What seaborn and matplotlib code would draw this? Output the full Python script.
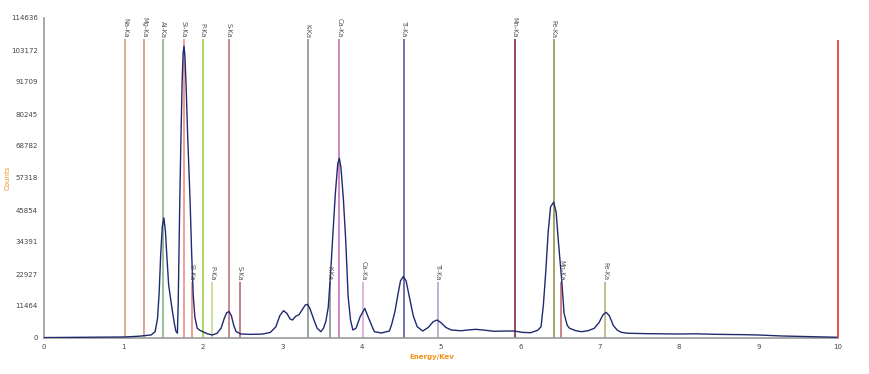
import matplotlib
matplotlib.use("Agg")
import matplotlib.pyplot as plt
import seaborn as sns
import pandas as pd

# ---- spectrum data ----
energy = [0.0, 0.5, 1.0, 1.09, 1.2, 1.26, 1.35, 1.40,
          1.43, 1.45, 1.47, 1.49, 1.51, 1.53, 1.55, 1.57, 1.59, 1.615, 1.64, 1.66, 1.68,
          1.69, 1.70, 1.71, 1.725, 1.74, 1.752, 1.763, 1.775, 1.79, 1.81, 1.84, 1.86, 1.88, 1.90, 1.93, 1.96,
          2.0, 2.06, 2.12, 2.18, 2.23, 2.27, 2.30, 2.33, 2.36, 2.39, 2.42, 2.48,
          2.6, 2.75, 2.85, 2.92, 2.97, 3.016, 3.06, 3.10, 3.13, 3.17, 3.21, 3.26, 3.29, 3.32, 3.35, 3.40, 3.44, 3.487,
          3.52, 3.55, 3.58, 3.61, 3.64, 3.67, 3.70, 3.72, 3.74, 3.77, 3.80, 3.83, 3.86, 3.89,
          3.93, 3.98, 4.04, 4.09, 4.16, 4.25,
          4.35, 4.38, 4.42, 4.46, 4.49, 4.525, 4.56, 4.60, 4.65, 4.70, 4.77,
          4.84, 4.90, 4.95, 5.00, 5.06, 5.13,
          5.25, 5.35, 5.44, 5.55, 5.67, 5.80, 5.92, 6.03, 6.13, 6.22, 6.26,
          6.29, 6.32, 6.35, 6.38, 6.42, 6.45, 6.48, 6.52, 6.55, 6.59, 6.62, 6.70, 6.77,
          6.85, 6.93, 6.99, 7.04, 7.08, 7.12, 7.17, 7.22, 7.27,
          7.35, 7.6, 8.0, 8.2, 8.5, 8.8, 9.0, 9.3, 9.6, 10.0]
counts = [150, 250, 360, 470, 650, 820, 1100, 2300,
          7000, 16000, 30000, 40000, 43000, 38000, 28000, 19000, 15000, 10000, 5500, 2500, 1700,
          12000, 30000, 49000, 72000, 92000, 102000, 104500, 101000, 90000, 72000, 49000, 30000, 15000, 7500, 3500, 2800,
          2260, 1500, 1075, 1700, 3500, 7000, 9000, 9500, 8000, 4500, 2260, 1430,
          1300, 1400, 2000, 4000, 8000, 9780, 8800, 6800, 6450, 7800, 8300, 10500, 11800, 12070, 10500, 6450, 3500, 2260,
          3500, 6000, 11000, 23300, 38000, 52000, 62500, 64400, 61000, 50000, 35000, 15000, 6500, 2870,
          3500, 7500, 10600, 7000, 2260, 1800,
          2500, 5000, 9500, 16000, 20500, 22000, 20500, 15000, 8000, 4050, 2500,
          3800, 5800, 6450, 5500, 3800, 2870,
          2600, 2900, 3100, 2800, 2400, 2500, 2500, 2000, 1900, 2800, 4050,
          12000, 24000, 38000, 47000, 48700, 45000, 34000, 20800, 8850, 4500, 3470, 2600, 2260,
          2600, 3470, 5500, 8300, 9200, 8000, 4500, 2800, 2040,
          1700, 1550, 1430, 1500, 1300, 1200, 1075, 716, 500, 250]

# ---- element marker lines ----
ka_labels = ["Na-Ka", "Mg-Ka", "Al-Ka", "Si-Ka", "P-Ka", "S-Ka", "K-Ka", "Ca-Ka", "Ti-Ka", "Mn-Ka", "Fe-Ka"]
ka_energy = [1.02, 1.26, 1.50, 1.76, 2.00, 2.33, 3.32, 3.72, 4.53, 5.93, 6.42]
ka_height = [107000] * 11
ka_colors = ["#d9956a", "#c8907a", "#7aaa82", "#e8857a", "#99cc33", "#b86b70",
             "#7a8a88", "#c466b8", "#4a4a9a", "#7a1a2a", "#8a8a40"]

kb_labels = ["Si-Ka", "P-Ka", "S-Ka", "K-Ka", "Ca-Ka", "Ti-Ka", "Mn-Ka", "Fe-Ka"]
kb_energy = [1.86, 2.12, 2.47, 3.60, 4.02, 4.96, 6.51, 7.07]
kb_height = [20000] * 8
kb_colors = ["#e8857a", "#b8d880", "#b06060", "#7a8a88", "#d8a0d0", "#a0a0c8", "#c06060", "#b0b070"]

limit_energy = 10.0
limit_height = 106800

y_ticks = [0, 11464, 22927, 34391, 45854, 57318, 68782, 80245, 91709, 103172, 114636]
x_ticks = [0, 1, 2, 3, 4, 5, 6, 7, 8, 9, 10]

sns.set_style("white")
fig = plt.figure(figsize=(8.69, 3.74), dpi=100)
ax = fig.add_axes([44 / 869, 36 / 374, (838 - 44) / 869, (338 - 18) / 374])

df = pd.DataFrame({"Energy": energy, "Counts": counts})

for e, h, c in zip(ka_energy, ka_height, ka_colors):
    ax.vlines(e, 0, h, color=c, lw=1.1, zorder=2)
for e, h, c in zip(kb_energy, kb_height, kb_colors):
    ax.vlines(e, 0, h, color=c, lw=1.1, zorder=2)
ax.vlines(limit_energy, 0, limit_height, color="#e84040", lw=1.3, zorder=4, clip_on=False)

sns.lineplot(data=df, x="Energy", y="Counts", ax=ax, color="#1f2a6e", lw=1.0,
             estimator=None, sort=False, zorder=3)
for ln in ax.get_lines():
    ln.set_solid_joinstyle("round")

for lab, e, h in zip(ka_labels, ka_energy, ka_height):
    ax.text(e, h + 600, lab, rotation=270, ha="center", va="bottom",
            fontsize=4.8, color="#555555", clip_on=False)
for lab, e, h in zip(kb_labels, kb_energy, kb_height):
    ax.text(e, h + 600, lab, rotation=270, ha="center", va="bottom",
            fontsize=4.8, color="#555555", clip_on=False)

ax.set_xlim(0, 10)
ax.set_ylim(0, 114636)
ax.set_xticks(x_ticks)
ax.set_xticklabels([str(t) for t in x_ticks])
ax.set_yticks(y_ticks)
ax.set_yticklabels([str(t) for t in y_ticks])
ax.tick_params(axis="both", labelsize=5, colors="#444444", length=3, width=0.8,
               direction="out", pad=1.5)
ax.tick_params(axis="both", color="#888888")
for s in ["top", "right"]:
    ax.spines[s].set_visible(False)
for s in ["left", "bottom"]:
    ax.spines[s].set_color("#999999")
    ax.spines[s].set_linewidth(1.2)

ax.set_xlabel("")
ax.set_ylabel("")
fig.text(8 / 869, 1 - 178 / 374, "Counts", rotation=90, ha="center", va="center",
         fontsize=5, color="#f0901a")
fig.text(432 / 869, 1 - 357 / 374, "Energy/Kev", ha="center", va="center",
         fontsize=5, color="#f0901a", fontweight="bold")

fig.savefig("out.png", dpi=100)
